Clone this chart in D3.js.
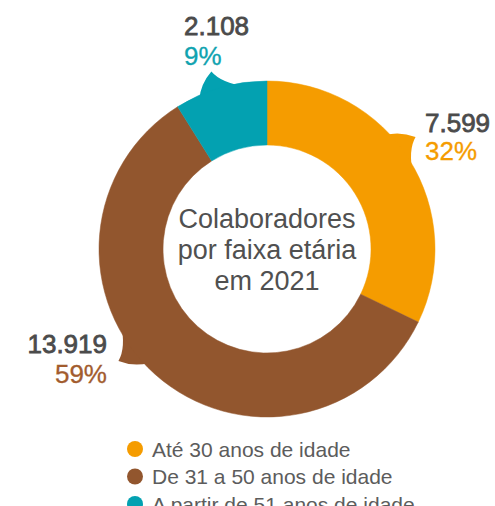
<html>
    <head>
        <title>Colaboradores por faixa etária em 2021</title>
        <script type="text/javascript" src="https://cdn.jsdelivr.net/npm/d3@7"></script>
        <style type="text/css">
            body { margin: 0; background: #fff; }
            #chartholder { width: 495px; height: 506px; }
            svg text { font-family: "Liberation Sans", Arial, Helvetica, sans-serif; }
        </style>
    </head>
    <body>
        <div id='chartholder'>
            <!-- d3 will put the chart here -->
        </div>

        <script type="text/javascript">

            // data
            var categories = ["Até 30 anos de idade", "De 31 a 50 anos de idade", "A partir de 51 anos de idade"];
            var values = [7599, 13919, 2108];
            var valueLabels = ["7.599", "13.919", "2.108"];
            var percentLabels = ["32%", "59%", "9%"];
            var titleLines = ["Colaboradores", "por faixa etária", "em 2021"];

            var colors = ["#f59c00", "#92562e", "#03a1b1"];
            var percentColors = ["#f59c00", "#a25c2e", "#10a3b0"];

            // layout for the callout labels (tail angle in degrees, text anchor point)
            var callouts = [
                {tail: 54, x: 425, y: 132, gap: 28, anchor: "start"},
                {tail: 234, x: 107, y: 353, gap: 30, anchor: "end"},
                {tail: 343.6, x: 184, y: 35, gap: 30, anchor: "start"}
            ];

            var width = 495, height = 506;
            var cx = 267, cy = 249;
            var outerR = 168, innerR = 104;

            var svg = d3.select('#chartholder')
                .append('svg')
                    .attr('width', width)
                    .attr('height', height);

            var donut = svg.append('g')
                .attr('transform', 'translate(' + cx + ',' + cy + ')');

            var pie = d3.pie().sort(null).value(function(d) { return d; });
            var arcs = pie(values);

            var arc = d3.arc().innerRadius(innerR).outerRadius(outerR);

            // little speech-bubble tails
            function polar(deg, r) {
                var a = deg * Math.PI / 180;
                return [r * Math.sin(a), -r * Math.cos(a)];
            }
            function tailPath(deg) {
                var a = polar(deg - 8, outerR - 4);
                var c1 = polar(deg - 5.5, outerR + 10);
                var t = polar(deg - 1, outerR + 18);
                var c2 = polar(deg + 1, outerR + 4);
                var b = polar(deg + 9, outerR - 4);
                return 'M' + a + 'Q' + c1 + ' ' + t + 'Q' + c2 + ' ' + b + 'Z';
            }

            donut.selectAll('path.tail')
                .data(arcs)
                .enter().append('path')
                    .attr('class', 'tail')
                    .attr('d', function(d, i) { return tailPath(callouts[i].tail); })
                    .style('fill', function(d, i) { return colors[i]; });

            donut.selectAll('path.slice')
                .data(arcs)
                .enter().append('path')
                    .attr('class', 'slice')
                    .attr('d', arc)
                    .style('fill', function(d, i) { return colors[i]; })
                    .style('stroke', function(d, i) { return colors[i]; })
                    .style('stroke-width', 0.5);

            // center title
            donut.append('text')
                .attr('text-anchor', 'middle')
                .style('font-size', '27px')
                .style('fill', '#505050')
                .selectAll('tspan')
                .data(titleLines)
                .enter().append('tspan')
                    .attr('x', 0)
                    .attr('y', function(d, i) { return -21 + i * 31; })
                    .text(function(d) { return d; });

            // callout labels
            var labels = svg.selectAll('g.label')
                .data(arcs)
                .enter().append('g')
                    .attr('class', 'label');

            labels.append('text')
                .attr('x', function(d, i) { return callouts[i].x; })
                .attr('y', function(d, i) { return callouts[i].y; })
                .attr('text-anchor', function(d, i) { return callouts[i].anchor; })
                .style('font-size', '26px')
                .style('fill', '#4b4b4b')
                .style('stroke', '#4b4b4b')
                .style('stroke-width', 0.8)
                .text(function(d, i) { return valueLabels[i]; });

            labels.append('text')
                .attr('x', function(d, i) { return callouts[i].x; })
                .attr('y', function(d, i) { return callouts[i].y + callouts[i].gap; })
                .attr('text-anchor', function(d, i) { return callouts[i].anchor; })
                .style('font-size', '26px')
                .style('fill', function(d, i) { return percentColors[i]; })
                .style('stroke', function(d, i) { return percentColors[i]; })
                .style('stroke-width', 0.3)
                .text(function(d, i) { return percentLabels[i]; });

            // legend
            var legendY = d3.scalePoint()
                .domain(categories)
                .range([449, 504]);

            var legend = svg.append('g')
                .selectAll('g')
                .data(categories)
                .enter().append('g')
                    .attr('transform', function(d) { return 'translate(135,' + legendY(d) + ')'; });

            legend.append('circle')
                .attr('r', 8)
                .style('fill', function(d, i) { return colors[i]; });

            legend.append('text')
                .attr('x', 17)
                .attr('y', 7.5)
                .style('font-size', '21px')
                .style('fill', '#5c5c5c')
                .text(function(d) { return d; });

        </script>
    </body>
</html>
